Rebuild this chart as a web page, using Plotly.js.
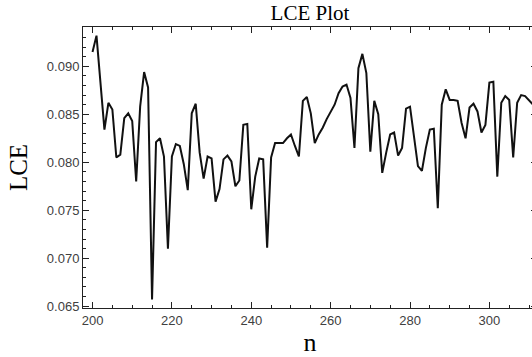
<!DOCTYPE html>
<html>
<head>
<meta charset="utf-8">
<script src="https://cdn.plot.ly/plotly-3.0.1.min.js"></script>
<style>
html,body{margin:0;padding:0;overflow:hidden;background:#fff;width:532px;height:357px;}
#chart{width:540px;height:357px;}
</style>
</head>
<body>
<div id="chart"></div>
<script>
const nValues = [200,201,202,203,204,205,206,207,208,209,
  210,211,212,213,214,215,216,217,218,219,
  220,221,222,223,224,225,226,227,228,229,
  230,231,232,233,234,235,236,237,238,239,
  240,241,242,243,244,245,246,247,248,249,
  250,251,252,253,254,255,256,257,258,259,
  260,261,262,263,264,265,266,267,268,269,
  270,271,272,273,274,275,276,277,278,279,
  280,281,282,283,284,285,286,287,288,289,
  290,291,292,293,294,295,296,297,298,299,
  300,301,302,303,304,305,306,307,308,309,
  310,311];
const lceValues = [0.0915,0.0932,0.0883,0.0834,0.0862,0.0855,0.0805,0.0808,0.0846,0.0851,
  0.0843,0.0780,0.0858,0.0894,0.0878,0.0657,0.0821,0.0825,0.0806,0.0710,
  0.0806,0.0819,0.0817,0.0798,0.0771,0.0851,0.0861,0.0810,0.0783,0.0806,
  0.0804,0.0759,0.0772,0.0803,0.0807,0.0801,0.0775,0.0781,0.0839,0.0840,
  0.0751,0.0785,0.0804,0.0803,0.0711,0.0805,0.0820,0.0820,0.0820,0.0825,
  0.0829,0.0817,0.0806,0.0864,0.0868,0.0851,0.0820,0.0829,0.0836,0.0845,
  0.0852,0.0860,0.0872,0.0879,0.0881,0.0867,0.0815,0.0898,0.0913,0.0893,
  0.0811,0.0864,0.0850,0.0789,0.0810,0.0829,0.0831,0.0807,0.0815,0.0856,
  0.0858,0.0827,0.0796,0.0791,0.0815,0.0834,0.0835,0.0752,0.0860,0.0876,
  0.0865,0.0865,0.0864,0.0841,0.0825,0.0857,0.0861,0.0853,0.0831,0.0839,
  0.0883,0.0884,0.0785,0.0862,0.0869,0.0865,0.0805,0.0862,0.0870,0.0869,
  0.0864,0.0860];
const chartTitle = "LCE Plot";
const xTitle = "n";
const yTitle = "LCE";

const tickFont = {family: "Liberation Sans, Arial, sans-serif", size: 13, color: "#404040"};
const serif = "Liberation Serif, Times New Roman, serif";

const trace = {
  x: nValues, y: lceValues, type: "scatter", mode: "lines",
  line: {color: "#111111", width: 2}, hoverinfo: "skip"
};

const layout = {
  width: 540, height: 357,
  margin: {l: 83, r: 3, t: 27, b: 49, pad: 0},
  paper_bgcolor: "#ffffff", plot_bgcolor: "#ffffff",
  showlegend: false,
  title: {text: chartTitle, font: {family: serif, size: 21, color: "#000"},
          x: 0.5, xref: "paper", xanchor: "center", y: 0.945, yref: "container", yanchor: "bottom"},
  xaxis: {
    range: [197.6, 312], tick0: 200, dtick: 20, tickmode: "linear",
    ticks: "inside", ticklen: 6, tickwidth: 1, tickcolor: "#222",
    showline: true, linecolor: "#222", linewidth: 1, mirror: "ticks",
    showgrid: false, zeroline: false, tickfont: tickFont,
    minor: {tick0: 200, dtick: 5, ticks: "inside", ticklen: 3, tickcolor: "#222", showgrid: false},
    title: {text: xTitle, font: {family: serif, size: 26, color: "#000"}, standoff: 10}
  },
  yaxis: {
    range: [0.06481, 0.09410], tick0: 0.065, dtick: 0.005, tickmode: "linear",
    tickformat: ".3f",
    ticks: "inside", ticklen: 6, tickwidth: 1, tickcolor: "#222",
    showline: true, linecolor: "#222", linewidth: 1, mirror: "ticks",
    showgrid: false, zeroline: false, tickfont: tickFont,
    minor: {tick0: 0.065, dtick: 0.001, ticks: "inside", ticklen: 3, tickcolor: "#222", showgrid: false},
    title: {text: yTitle, font: {family: serif, size: 25, color: "#000"}, standoff: 12}
  }
};

Plotly.newPlot("chart", [trace], layout, {displayModeBar: false, staticPlot: true});
</script>
</body>
</html>
